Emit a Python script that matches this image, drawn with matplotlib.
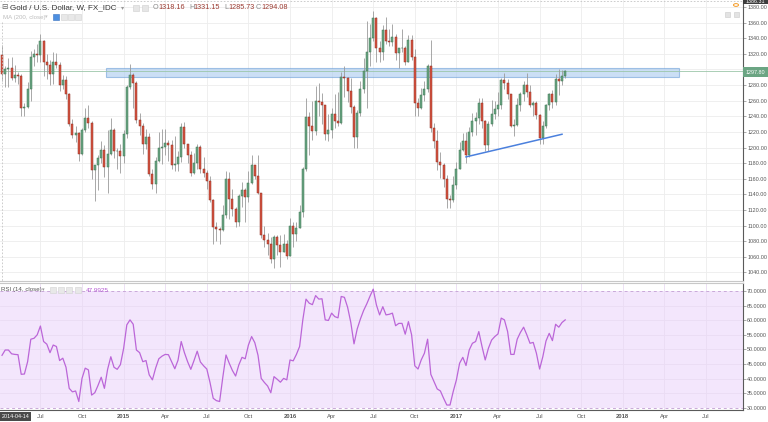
import matplotlib
matplotlib.use('Agg')
import matplotlib.pyplot as plt
import matplotlib.dates as mdates
from matplotlib.patches import Rectangle, Circle
import pandas as pd

plt.rcParams['font.family'] = ['Liberation Sans', 'DejaVu Sans']

# weekly OHLC, Gold / USD (FX_IDC), weeks starting 2014-04-14
opens = [1318.16, 1294, 1301, 1302, 1289, 1293, 1292, 1250, 1252, 1275, 1316, 1320, 1318, 1337, 1310, 1306, 1294, 1310, 1306, 1280,
         1287, 1268, 1230, 1216, 1218, 1192, 1222, 1238, 1231, 1171, 1177, 1187, 1197, 1175, 1192, 1222, 1195, 1195, 1189, 1217,
         1277, 1293, 1283, 1235, 1227, 1204, 1213, 1166, 1153, 1183, 1199, 1201, 1206, 1203, 1178, 1179, 1188, 1226, 1204, 1190,
         1168, 1180, 1201, 1173, 1168, 1157, 1133, 1098, 1095, 1094, 1113, 1160, 1134, 1121, 1104, 1138, 1145, 1137, 1155, 1177,
         1163, 1142, 1088, 1081, 1076, 1057, 1085, 1075, 1066, 1076, 1061, 1100, 1089, 1097, 1117, 1173, 1239, 1227, 1221, 1259,
         1258, 1255, 1217, 1222, 1243, 1234, 1231, 1290, 1289, 1273, 1252, 1213, 1244, 1275, 1298, 1322, 1340, 1366, 1327, 1322,
         1351, 1336, 1335, 1341, 1321, 1327, 1328, 1310, 1338, 1316, 1257, 1251, 1267, 1275, 1304, 1225, 1208, 1181, 1177, 1160,
         1134, 1133, 1152, 1173, 1197, 1209, 1190, 1220, 1234, 1238, 1257, 1234, 1203, 1230, 1243, 1249, 1254, 1286, 1283, 1268,
         1228, 1229, 1254, 1268, 1280, 1271, 1254, 1257, 1242, 1212, 1228, 1254, 1269, 1258, 1288, 1285, 1291]
highs = [1331.15, 1305, 1315, 1316, 1306, 1297, 1294, 1257, 1284, 1324, 1326, 1333, 1345, 1338, 1320, 1312, 1322, 1321, 1309, 1293,
         1291, 1270, 1237, 1227, 1220, 1225, 1250, 1255, 1234, 1178, 1190, 1208, 1203, 1222, 1238, 1225, 1200, 1205, 1223, 1280,
         1307, 1296, 1285, 1244, 1232, 1224, 1219, 1173, 1188, 1220, 1224, 1224, 1209, 1209, 1215, 1196, 1232, 1233, 1205, 1196,
         1193, 1205, 1203, 1188, 1171, 1163, 1134, 1105, 1098, 1126, 1170, 1169, 1147, 1124, 1141, 1156, 1148, 1170, 1191, 1178,
         1191, 1142, 1099, 1090, 1085, 1088, 1088, 1088, 1089, 1082, 1110, 1105, 1104, 1126, 1175, 1263, 1246, 1260, 1279, 1283,
         1270, 1255, 1243, 1251, 1268, 1271, 1297, 1304, 1290, 1289, 1254, 1248, 1285, 1315, 1362, 1358, 1375, 1367, 1337, 1357,
         1367, 1352, 1358, 1346, 1327, 1352, 1330, 1344, 1344, 1326, 1264, 1276, 1285, 1307, 1338, 1231, 1222, 1194, 1180, 1165,
         1139, 1163, 1182, 1207, 1219, 1220, 1226, 1244, 1245, 1264, 1264, 1235, 1234, 1261, 1260, 1271, 1289, 1295, 1288, 1269,
         1236, 1264, 1271, 1285, 1296, 1280, 1260, 1259, 1243, 1234, 1256, 1270, 1274, 1294, 1301, 1299, 1299]
lows = [1285.73, 1277, 1277, 1286, 1284, 1282, 1241, 1240, 1250, 1260, 1305, 1310, 1310, 1292, 1288, 1280, 1281, 1302, 1273, 1275,
        1262, 1228, 1212, 1207, 1183, 1190, 1220, 1225, 1160, 1131, 1145, 1180, 1162, 1142, 1190, 1187, 1172, 1167, 1180, 1212,
        1275, 1250, 1232, 1216, 1192, 1198, 1164, 1147, 1142, 1182, 1179, 1191, 1183, 1172, 1170, 1170, 1182, 1200, 1180, 1163,
        1166, 1172, 1168, 1162, 1147, 1130, 1077, 1080, 1077, 1093, 1110, 1108, 1112, 1098, 1100, 1124, 1105, 1130, 1153, 1160,
        1140, 1084, 1073, 1062, 1052, 1046, 1062, 1047, 1066, 1057, 1061, 1073, 1080, 1097, 1111, 1170, 1191, 1209, 1216, 1240,
        1230, 1209, 1208, 1212, 1225, 1228, 1230, 1265, 1258, 1244, 1200, 1200, 1240, 1270, 1251, 1305, 1336, 1310, 1310, 1312,
        1332, 1330, 1330, 1312, 1302, 1322, 1306, 1310, 1312, 1241, 1240, 1249, 1260, 1271, 1220, 1200, 1171, 1161, 1150, 1122,
        1123, 1130, 1147, 1172, 1195, 1180, 1188, 1215, 1216, 1230, 1225, 1195, 1196, 1228, 1237, 1241, 1249, 1275, 1262, 1226,
        1215, 1228, 1247, 1260, 1265, 1252, 1241, 1236, 1205, 1205, 1225, 1248, 1250, 1254, 1267, 1280, 1289]
closes = [1294.08, 1301, 1302, 1289, 1293, 1292, 1250, 1252, 1275, 1316, 1320, 1318, 1337, 1310, 1306, 1294, 1310, 1306, 1280, 1287,
          1268, 1230, 1216, 1218, 1192, 1222, 1238, 1231, 1171, 1177, 1187, 1197, 1175, 1192, 1222, 1195, 1195, 1189, 1217, 1277,
          1293, 1283, 1235, 1227, 1204, 1213, 1166, 1153, 1183, 1199, 1201, 1206, 1203, 1178, 1179, 1188, 1226, 1204, 1190, 1168,
          1180, 1201, 1173, 1168, 1157, 1133, 1098, 1095, 1094, 1113, 1160, 1134, 1121, 1104, 1138, 1145, 1137, 1155, 1177, 1163,
          1142, 1088, 1081, 1076, 1057, 1085, 1075, 1066, 1076, 1061, 1100, 1089, 1097, 1117, 1173, 1239, 1227, 1221, 1259, 1258,
          1255, 1217, 1222, 1243, 1234, 1231, 1290, 1289, 1273, 1252, 1213, 1244, 1275, 1298, 1322, 1340, 1366, 1327, 1322, 1351,
          1336, 1335, 1341, 1321, 1327, 1328, 1310, 1338, 1316, 1257, 1251, 1267, 1275, 1304, 1225, 1208, 1181, 1177, 1160, 1134,
          1133, 1152, 1173, 1197, 1209, 1190, 1220, 1234, 1238, 1257, 1234, 1203, 1230, 1243, 1249, 1254, 1286, 1283, 1268, 1228,
          1229, 1254, 1268, 1280, 1271, 1254, 1257, 1242, 1212, 1228, 1254, 1269, 1258, 1288, 1285, 1291, 1297.8]

# RSI (14, close)
rsi = [47.99, 49.8, 49.8, 48.5, 48.3, 48.2, 41.5, 41.6, 45.8, 53.5, 53.8, 55.0, 58.0, 52.7, 51.8, 48.9, 51.5, 51.0, 46.2, 47.0,
       43.9, 36.7, 35.5, 35.8, 32.2, 40.1, 43.6, 43.0, 34.4, 35.2, 37.7, 40.5, 36.7, 43.2, 47.5, 43.9, 43.2, 44.8, 50.3, 58.4,
       60.1, 58.6, 49.8, 48.9, 45.8, 46.2, 41.3, 39.6, 43.6, 46.8, 47.7, 48.3, 48.2, 45.8, 43.4, 46.3, 52.7, 48.9, 45.8, 43.2,
       46.2, 49.4, 45.7, 44.4, 43.3, 38.7, 33.3, 32.5, 32.2, 40.5, 48.1, 45.3, 42.8, 40.9, 44.7, 47.3, 46.8, 51.5, 54.4, 52.3,
       48.0, 40.1, 38.7, 37.5, 35.2, 40.7, 39.8, 38.8, 40.1, 39.6, 46.4, 46.1, 48.3, 51.0, 60.1, 67.2, 65.8, 65.3, 68.4, 67.2,
       67.3, 60.1, 59.9, 62.4, 61.2, 60.8, 68.1, 67.8, 64.4, 59.2, 51.9, 57.0, 60.4, 63.3, 65.6, 68.2, 70.6, 65.2, 61.8, 64.6,
       61.8, 62.0, 62.4, 58.1, 58.9, 58.9, 55.2, 59.5, 55.0, 44.4, 43.3, 46.4, 48.7, 53.5, 41.5, 39.0, 36.5, 35.8, 33.3, 31.0,
       31.0, 35.6, 39.6, 45.3, 47.3, 44.5, 49.8, 52.1, 52.7, 56.1, 51.0, 46.4, 50.4, 53.2, 54.4, 55.3, 60.7, 60.1, 56.1, 48.3,
       48.3, 53.5, 55.8, 57.6, 55.0, 52.1, 52.4, 48.7, 43.3, 47.5, 52.9, 55.5, 53.0, 58.6, 57.6, 59.2, 60.1]

dates = pd.date_range('2014-04-14', periods=len(closes), freq='W-MON')

# drawings
zone_start, zone_end = '2014-11-28', '2018-05-04'
zone_lo, zone_hi = 1290.5, 1302.0
trend_dates = ['2017-01-23', '2017-08-21']
trend_prices = [1188, 1217]
last_price = 1297.80

price_ticks = list(range(1040, 1381, 20))
rsi_ticks = list(range(30, 71, 5))
tick_dates = ['2014-07-07', '2014-10-06', '2015-01-05', '2015-04-06', '2015-07-06', '2015-10-05',
              '2016-01-04', '2016-04-04', '2016-07-04', '2016-10-03', '2017-01-02', '2017-04-03',
              '2017-07-03', '2017-10-02', '2018-01-01', '2018-04-02', '2018-07-02']
tick_labels = ['Jul', 'Oct', '2015', 'Apr', 'Jul', 'Oct', '2016', 'Apr', 'Jul', 'Oct',
               '2017', 'Apr', 'Jul', 'Oct', '2018', 'Apr', 'Jul']

W, H = 768, 422
def fx(px): return px / W
def fy(py): return 1 - py / H

up, down = '#6ba583', '#d75442'
up_edge, down_edge = '#3d7552', '#8e2f22'
grid_c = '#ededed'
lab_c = '#555555'
tick_fs = 3.9

fig = plt.figure(figsize=(W / 100, H / 100), dpi=100)
ax = fig.add_axes([0, fy(281), fx(743), 281 / H])
ax2 = fig.add_axes([0, fy(410), fx(743), (410 - 283) / H])

xd = mdates.date2num(dates)
t0 = xd[0] - 4.4
xlim = (t0, t0 + 743 / 3.2 * 7)
tick_x = mdates.date2num(pd.to_datetime(tick_dates))

# ---- price pane
for t in price_ticks:
    ax.axhline(t, color=grid_c, lw=0.6, zorder=0)
for t in tick_x:
    ax.axvline(t, color=grid_c, lw=0.6, zorder=0)

zs, ze = mdates.date2num(pd.to_datetime([zone_start, zone_end]))
ax.add_patch(Rectangle((zs, zone_lo), ze - zs, zone_hi - zone_lo, facecolor='#a9cbef', alpha=0.6,
                       edgecolor='#6d9fd8', lw=0.8, zorder=1))
ax.axhline(last_price, color='#9cc6aa', lw=0.6, zorder=1)

for x, o, h, l, c in zip(xd, opens, highs, lows, closes):
    col, ec = (up, up_edge) if c >= o else (down, down_edge)
    ax.vlines(x, l, h, color='#9a9a9a', lw=0.6, zorder=2)
    ax.bar(x, max(abs(c - o), 0.8), bottom=min(o, c), width=4.6, color=col, edgecolor=ec, lw=0.35, zorder=3)

ax.plot(mdates.date2num(pd.to_datetime(trend_dates)), trend_prices, color='#4b80dd', lw=1.1, zorder=4)

ax.set_xlim(*xlim)
ax.set_ylim(1029, 1389)
ax.yaxis.tick_right()
ax.set_yticks(price_ticks)
ax.set_yticklabels(['' if t == 1300 else f'{t:.2f}' for t in price_ticks], fontsize=tick_fs, color=lab_c)
ax.tick_params(axis='y', length=2, width=0.5, pad=1, color='#888888')
ax.set_xticks([])
for s in ['left', 'top']:
    ax.spines[s].set_visible(False)
ax.spines['right'].set_color('#5a5a5a')
ax.spines['right'].set_linewidth(0.8)
ax.spines['bottom'].set_color('#c8c8c8')
ax.spines['bottom'].set_linewidth(0.8)

# ---- RSI pane
ax2.axhspan(30, 70, color='#f3e6fc', zorder=0, lw=0)
for t in rsi_ticks[1:-1]:
    ax2.axhline(t, color='#eadcf3', lw=0.6, zorder=0.5)
for t in tick_x:
    ax2.axvline(t, color='#eadcf3', lw=0.6, zorder=0.5)
for lvl in (30, 70):
    ax2.axhline(lvl, color='#c9a9d8', lw=0.7, ls=(0, (3, 3)), zorder=1)
ax2.plot(xd, rsi, color='#bb66d8', lw=0.9, zorder=3)

ax2.set_xlim(*xlim)
ax2.set_ylim(29.3, 72.7)
ax2.yaxis.tick_right()
ax2.set_yticks(rsi_ticks)
ax2.set_yticklabels([f'{t:.4f}' for t in rsi_ticks], fontsize=tick_fs, color=lab_c)
ax2.tick_params(axis='y', length=2, width=0.5, pad=1, color='#888888')
ax2.set_xticks(tick_x)
ax2.set_xticklabels(tick_labels, fontsize=4.2, color=lab_c)
ax2.tick_params(axis='x', length=0, pad=3)
for lbl in ax2.get_xticklabels():
    if lbl.get_text().isdigit():
        lbl.set_fontweight('bold')
ax2.spines['left'].set_visible(False)
ax2.spines['right'].set_color('#5a5a5a')
ax2.spines['right'].set_linewidth(0.8)
ax2.spines['top'].set_color('#c8c8c8')
ax2.spines['top'].set_linewidth(0.8)
ax2.spines['bottom'].set_color('#5a5a5a')
ax2.spines['bottom'].set_linewidth(0.8)

# ---- overlays in pixel positions
fig.add_artist(plt.Line2D([fx(2), fx(2)], [fy(22), fy(281)], color='#c4c4c4', lw=0.6, ls=(0, (2, 2))))
fig.add_artist(plt.Line2D([0, fx(743)], [fy(0.8), fy(0.8)], color='#c4c4c4', lw=0.6, ls=(0, (2, 2))))

fig.text(fx(1.5), fy(7.5), '⊟', fontsize=5.5, color='#666666', va='center')
fig.text(fx(10), fy(7.5), 'Gold / U.S. Dollar, W, FX_IDC', fontsize=5.8, color='#333333', va='center')
fig.text(fx(121), fy(7.5), '▾', fontsize=4.5, color='#999999', va='center')
for px in (133, 142):
    fig.add_artist(Rectangle((fx(px), fy(11)), fx(6), 6 / H, facecolor='#e6e6e6', edgecolor='#cfcfcf', lw=0.4))
ohlc = [('O', 153, '1318.16', 158.5), ('H', 189, '1331.15', 193.5),
        ('L', 224, '1285.73', 228), ('C', 256, '1294.08', 261)]
for k, kx, v, vx in ohlc:
    fig.text(fx(kx), fy(7.5), k, fontsize=5.2, color='#8a8a8a', va='center')
    fig.text(fx(vx), fy(7.5), v, fontsize=5.2, color='#9c3b31', va='center')

fig.text(fx(3), fy(17), 'MA (200, close)', fontsize=4.4, color='#bdbdbd', va='center')
fig.text(fx(45), fy(17), '▾', fontsize=3.8, color='#c4c4c4', va='center')
fig.add_artist(Rectangle((fx(53), fy(20)), fx(6), 6 / H, facecolor='#4d8fe0', edgecolor='#3a73c0', lw=0.4))
for px in (61, 68, 75):
    fig.add_artist(Rectangle((fx(px), fy(20)), fx(6), 6 / H, facecolor='#e8e8e8', edgecolor='#d2d2d2', lw=0.4))

fig.text(fx(1), fy(290), 'RSI (14, close)', fontsize=4.4, color='#555555', va='center')
fig.text(fx(42), fy(290), '▾', fontsize=3.8, color='#999999', va='center')
for px in (50, 58, 66, 75):
    fig.add_artist(Rectangle((fx(px), fy(293)), fx(6), 6 / H, facecolor='#e8e8e8', edgecolor='#d2d2d2', lw=0.4))
fig.text(fx(86), fy(290), '47.9925', fontsize=4.6, color='#b55bd3', va='center')

# last price tag and top-right marks
fig.add_artist(Rectangle((fx(743), fy(76.5)), fx(25), 9 / H, facecolor='#6ba583', edgecolor='none'))
fig.text(fx(746), fy(72), f'{last_price:.2f}', fontsize=tick_fs, color='white', va='center')
fig.add_artist(Rectangle((fx(743), fy(4)), fx(25), 6 / H, facecolor='#3d3d3d', edgecolor='none'))
fig.text(fx(746), fy(1.5), '1386.31', fontsize=tick_fs, color='white', va='center')
fig.add_artist(Circle((fx(736), fy(5)), 2.5 / W, facecolor='white', edgecolor='#f59a23', lw=0.7,
                      transform=fig.transFigure))
for px in (725, 734):
    fig.add_artist(Rectangle((fx(px), fy(17)), fx(5), 5 / H, facecolor='#e3e3e3', edgecolor='#cccccc', lw=0.4))

fig.add_artist(Rectangle((0, fy(421)), fx(31), 9 / H, facecolor='#4a4a4a', edgecolor='none'))
fig.text(fx(1.5), fy(416.5), '2014-04-14', fontsize=tick_fs, color='white', va='center')

fig.savefig('out.png', dpi=100, facecolor='white')
